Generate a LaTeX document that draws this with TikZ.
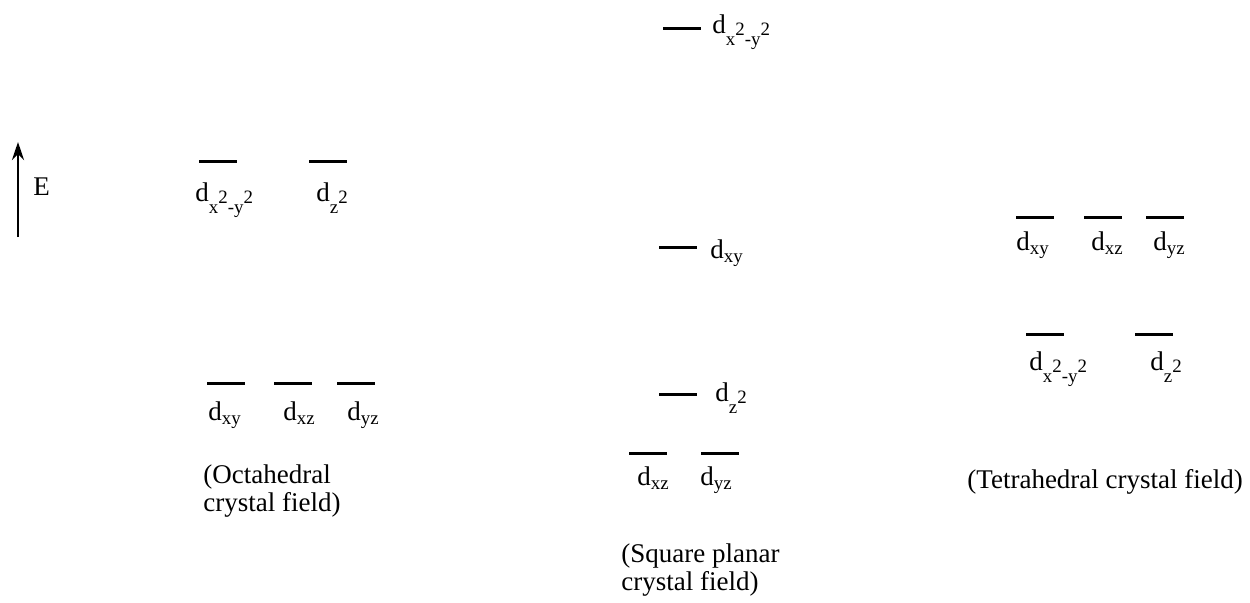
\documentclass[tikz,border=0pt]{standalone}
\usepackage{fontspec}
\setmainfont{Liberation Serif}
\usepackage{tikz}
\usetikzlibrary{arrows.meta,positioning}
\definecolor{cfink}{HTML}{000000}
\newcommand{\orb}[1]{d\textsubscript{#1}}
\newcommand{\orbsq}{d\textsubscript{x\raisebox{1.1ex}{2}-y\raisebox{1.1ex}{2}}}
\newcommand{\orbzz}{d\textsubscript{z\raisebox{1.1ex}{2}}}
\tikzset{
  cflevel/.style={fill=cfink, draw=none, inner sep=0pt, minimum width=19pt,
                  minimum height=1.5pt},
  cflabel/.style={anchor=base west, inner sep=0pt, text=cfink,
                  font=\fontsize{13.5}{14}\selectfont},
  cfnote/.style={cflabel, align=left},
  cfaxis/.style={-{Stealth[length=9pt, width=6pt]}, draw=cfink, line width=1.3pt},
}
\begin{document}
\begin{tikzpicture}[x=0.5pt, y=-0.5pt]
  \useasboundingbox (0,0) rectangle (1250,602);
  % energy axis
  \coordinate (ebot) at (18,237);
  \coordinate (etop) at (18,142);
  \draw[cfaxis] (ebot) -- (etop);
  \node[cflabel] (elab) at (33,195) {E};

  % octahedral
  \node[cflevel] (oeg1) at (218,161) {};
  \node[cflevel] (oeg2) at (328,161) {};
  \node[cflabel] (oeg1l) at (195,201) {\orbsq};
  \node[cflabel] (oeg2l) at (316,201) {\orbzz};
  \node[cflevel] (ot1) at (226,383) {};
  \node[cflevel] (ot2) at (293,383) {};
  \node[cflevel] (ot3) at (356,383) {};
  \node[cflabel] (ot1l) at (208,420) {\orb{xy}};
  \node[cflabel] (ot2l) at (283,420) {\orb{xz}};
  \node[cflabel] (ot3l) at (347,420) {\orb{yz}};
  \node[cfnote] (onote) at (203,511) {(Octahedral\\crystal field)};

  % square planar
  \node[cflevel] (sq1) at (682,28) {};
  \node[cflabel] (sq1l) at (712,33) {\orbsq};
  \node[cflevel] (sq2) at (678,247) {};
  \node[cflabel] (sq2l) at (710,258) {\orb{xy}};
  \node[cflevel] (sq3) at (678,394) {};
  \node[cflabel] (sq3l) at (715,401) {\orbzz};
  \node[cflevel] (sq4) at (648,453) {};
  \node[cflevel] (sq5) at (720,453) {};
  \node[cflabel] (sq4l) at (637,485) {\orb{xz}};
  \node[cflabel] (sq5l) at (700,485) {\orb{yz}};
  \node[cfnote] (snote) at (621,590) {(Square planar\\crystal field)};

  % tetrahedral
  \node[cflevel] (tt1) at (1035,217) {};
  \node[cflevel] (tt2) at (1103,217) {};
  \node[cflevel] (tt3) at (1165,217) {};
  \node[cflabel] (tt1l) at (1016,250) {\orb{xy}};
  \node[cflabel] (tt2l) at (1091,250) {\orb{xz}};
  \node[cflabel] (tt3l) at (1153,250) {\orb{yz}};
  \node[cflevel] (te1) at (1045,334) {};
  \node[cflevel] (te2) at (1154,334) {};
  \node[cflabel] (te1l) at (1029,370) {\orbsq};
  \node[cflabel] (te2l) at (1150,370) {\orbzz};
  \node[cflabel] (tnote) at (967,488) {(Tetrahedral crystal field)};
\end{tikzpicture}
\end{document}
